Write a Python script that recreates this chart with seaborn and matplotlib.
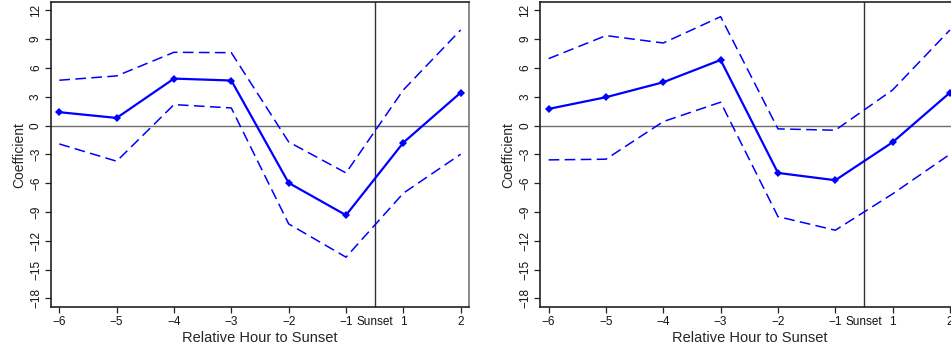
import matplotlib
matplotlib.use("Agg")
import matplotlib.pyplot as plt
import seaborn as sns
import pandas as pd
import numpy as np

hours = ["\u22126", "\u22125", "\u22124", "\u22123", "\u22122", "\u22121", "1", "2"]

left_coef = [1.4, 0.8, 4.9, 4.7, -5.97, -9.33, -1.77, 3.44]
left_upper = [4.73, 5.18, 7.64, 7.6, -1.70, -4.93, 3.72, 9.97]
left_lower = [-1.91, -3.71, 2.19, 1.84, -10.24, -13.71, -7.04, -2.98]

right_coef = [1.74, 2.96, 4.52, 6.84, -4.93, -5.69, -1.73, 3.44]
right_upper = [6.98, 9.38, 8.61, 11.35, -0.34, -0.48, 3.72, 9.97]
right_lower = [-3.57, -3.5, 0.42, 2.44, -9.48, -10.9, -7.11, -2.98]

yticks = list(range(12, -19, -3))

sns.set_style("ticks")
plt.rcParams['font.family'] = ['Liberation Sans', 'DejaVu Sans']

fig = plt.figure(figsize=(9.51, 3.51), dpi=100)
W, H = 951, 351

def make_ax(left_px, right_px):
    return fig.add_axes([left_px / W, (H - 307) / H, (right_px - left_px) / W, (307 - 2.3) / H])

ax1 = make_ax(51, 469)
ax2 = make_ax(540.3, 958.3)

def draw(ax, coef, upper, lower):
    pos = np.arange(len(hours))
    df = pd.DataFrame({"pos": pos, "coef": coef, "upper": upper, "lower": lower})
    ax.axhline(0, color="#6e6e6e", lw=1.0, zorder=1)
    ax.axvline(5.5, color="#333333", lw=1.0, zorder=1)
    for col in ["upper", "lower"]:
        sns.lineplot(data=df, x="pos", y=col, ax=ax, color="#0000ff", lw=1.1,
                     dashes=False, zorder=3).lines[-1].set_dashes([7, 3.5])
    sns.lineplot(data=df, x="pos", y="coef", ax=ax, color="#0000ff", lw=1.6,
                 marker="D", markersize=4.5, markeredgewidth=0, zorder=4)
    ax.set_xlim(-0.145, 7.145)
    ax.set_ylim(-18.9, 12.85)
    ax.set_yticks(yticks)
    ax.set_yticklabels([str(t).replace("-", "\u2212") for t in yticks], rotation=90, va="center", fontsize=8.5)
    ax.set_xticks(list(pos))
    ax.set_xticklabels(hours, fontsize=8.5)
    ax.set_xticks([5.5], minor=True)
    ax.set_xticklabels(["Sunset"], minor=True, fontsize=8.5)
    ax.set_xlabel("Relative Hour to Sunset", fontsize=10.5, labelpad=2)
    ax.set_ylabel("Coefficient", fontsize=10, labelpad=3)
    ax.tick_params(which="major", direction="out", length=4.5, width=0.9, color="#222222", pad=2, labelcolor="#111111")
    ax.tick_params(axis="x", which="minor", length=0, pad=6.5, labelcolor="#111111")
    for s in ["left", "bottom", "top"]:
        ax.spines[s].set_color("#222222")
        ax.spines[s].set_linewidth(1.2)
    ax.spines["right"].set_color("#777777")
    ax.spines["right"].set_linewidth(1.2)
    ax.spines["top"].set_visible(True)
    ax.spines["right"].set_visible(True)

draw(ax1, left_coef, left_upper, left_lower)
draw(ax2, right_coef, right_upper, right_lower)

fig.savefig("out.png", dpi=100)
